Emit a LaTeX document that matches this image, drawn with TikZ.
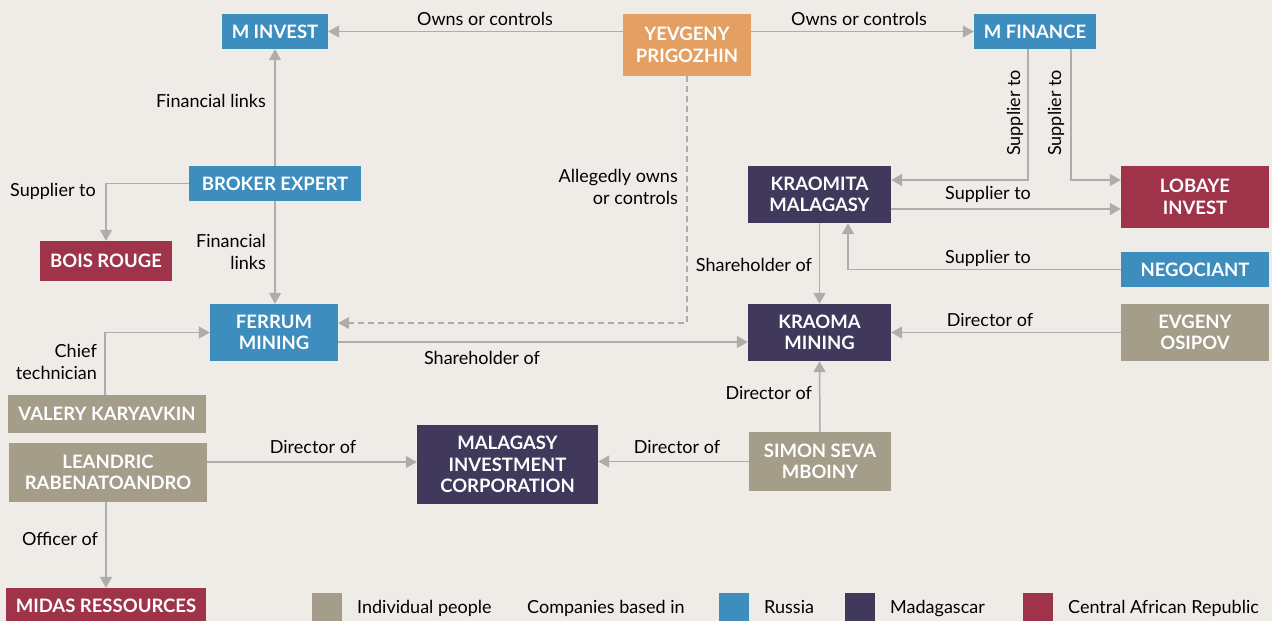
\documentclass[tikz,border=0pt]{standalone}
\usepackage{fontspec}
\setmainfont{Lato}
\usetikzlibrary{arrows.meta,calc}
\definecolor{bgc}{HTML}{EFECE7}
\definecolor{rus}{HTML}{3E8DBF}
\definecolor{mad}{HTML}{40395C}
\definecolor{car}{HTML}{9F334A}
\definecolor{ppl}{HTML}{A39D89}
\definecolor{prg}{HTML}{E3A062}
\definecolor{lnc}{HTML}{ADADAD}
\tikzset{
  box/.style={inner sep=0pt, align=center, text=white, font=\fontsize{18.5}{21.5}\selectfont\bfseries},
  lbl/.style={inner sep=0pt, align=center, text=black, font=\fontsize{18}{22}\selectfont},
  lblr/.style={lbl, align=right},
  arr/.style={draw=lnc, line width=1.5pt, -{Triangle[length=11pt,width=12pt]}},
  darr/.style={arr, dash pattern=on 6pt off 4pt, line width=1.2pt},
  sq/.style={inner sep=0pt, minimum width=30pt, minimum height=30pt}
}
\begin{document}
\begin{tikzpicture}[x=1pt,y=-1pt]
\fill[bgc] (0,0) rectangle (1272,621);
\useasboundingbox (0,0) rectangle (1272,621);
% nodes
\node[box, fill=rus, minimum width=106pt, minimum height=35pt] (minv) at (275,31.5) {M INVEST};
\node[box, fill=prg, minimum width=128pt, minimum height=62pt] (prig) at (687,45) {YEVGENY\\PRIGOZHIN};
\node[box, fill=rus, minimum width=122pt, minimum height=35pt] (mfin) at (1035,31.5) {M FINANCE};
\node[box, fill=rus, minimum width=172pt, minimum height=35pt] (broker) at (275,183.5) {BROKER EXPERT};
\node[box, fill=car, minimum width=132pt, minimum height=40pt] (bois) at (106,261) {BOIS ROUGE};
\node[box, fill=mad, minimum width=143pt, minimum height=57pt] (kraomita) at (819.5,194.5) {KRAOMITA\\MALAGASY};
\node[box, fill=car, minimum width=148pt, minimum height=62pt] (lobaye) at (1195,197) {LOBAYE\\INVEST};
\node[box, fill=rus, minimum width=148pt, minimum height=35pt] (negoc) at (1195,269.5) {NEGOCIANT};
\node[box, fill=rus, minimum width=128pt, minimum height=57pt] (ferrum) at (274,332.5) {FERRUM\\MINING};
\node[box, fill=mad, minimum width=143pt, minimum height=57pt] (kraoma) at (819.5,332.5) {KRAOMA\\MINING};
\node[box, fill=ppl, minimum width=148pt, minimum height=57pt] (osipov) at (1195,332.5) {EVGENY\\OSIPOV};
\node[box, fill=ppl, minimum width=198pt, minimum height=38pt] (valery) at (107,414) {VALERY KARYAVKIN};
\node[box, fill=ppl, minimum width=198pt, minimum height=59pt] (leandric) at (108,472.5) {LEANDRIC\\RABENATOANDRO};
\node[box, fill=mad, minimum width=181pt, minimum height=79pt] (mic) at (507.5,464.5) {MALAGASY\\INVESTMENT\\CORPORATION};
\node[box, fill=ppl, minimum width=142pt, minimum height=59pt] (simon) at (820,461.5) {SIMON SEVA\\MBOINY};
\node[box, fill=car, minimum width=200pt, minimum height=36pt] (midas) at (106,606) {MIDAS RESSOURCES};
% helper coordinates
\coordinate (feA) at ([yshift=9.5pt]ferrum.east);
\coordinate (feB) at ([yshift=-9.5pt]ferrum.east);
\coordinate (kmA) at ([yshift=14.5pt]kraomita.east);
\coordinate (kmB) at ([yshift=-14.5pt]kraomita.east);
\coordinate (kmS) at ([xshift=28.5pt]kraomita.south);
\coordinate (mfA) at ([xshift=-7pt]mfin.south);
\coordinate (mfB) at ([xshift=36pt]mfin.south);
\coordinate (lbA) at ([yshift=17pt]lobaye.west);
\coordinate (leA) at ([yshift=10.5pt]leandric.east);
\coordinate (vaA) at ([xshift=-2pt]valery.north);
% connectors
\draw[arr] (minv.east -| prig.west) -- (minv.east);
\draw[arr] (mfin.west -| prig.east) -- (mfin.west);
\draw[arr] (broker.north) -- (minv.south);
\draw[arr] (broker.west) -| (bois.north);
\draw[arr] (broker.south) -- (broker.south |- ferrum.north);
\draw[darr] (prig.south) |- (feA);
\draw[arr] (feB) -- (kraoma.west |- feB);
\draw[arr] (kraomita.south) -- (kraoma.north);
\draw[arr] (mfA) |- (kmA);
\draw[arr] (mfB) |- (lbA);
\draw[arr] (kmB) -- (lobaye.west |- kmB);
\draw[arr] (negoc.west) -| (kmS);
\draw[arr] (osipov.west) -- (kraoma.east);
\draw[arr] (simon.north) -- (kraoma.south);
\draw[arr] (simon.west) -- (mic.east |- simon.west);
\draw[arr] (leA) -- (mic.west |- leA);
\draw[arr] (vaA) |- (ferrum.west);
\draw[arr] (leandric.south -| midas.north) -- (midas.north);
% labels
\node[lbl] (l1) at (485,19) {Owns or controls};
\node[lbl] (l2) at (859,19) {Owns or controls};
\node[lblr, anchor=east] (l3) at (266,101) {Financial links};
\node[lblr, anchor=east] (l4) at (96,191) {Supplier to};
\node[lblr, anchor=east] (l5) at (266,252) {Financial\\links};
\node[lblr, anchor=east] (l6) at (678,187) {Allegedly owns\\or controls};
\node[lbl] (l7) at (482,358) {Shareholder of};
\node[lblr, anchor=east] (l8) at (812,265) {Shareholder of};
\node[lbl, rotate=90] (l9) at (1015,113) {Supplier to};
\node[lbl, rotate=90] (l10) at (1056,113) {Supplier to};
\node[lbl] (l11) at (988,194) {Supplier to};
\node[lbl] (l12) at (988,258) {Supplier to};
\node[lbl] (l13) at (990,320) {Director of};
\node[lblr, anchor=east] (l14) at (812,393) {Director of};
\node[lbl] (l15) at (677,447) {Director of};
\node[lbl] (l16) at (313,447) {Director of};
\node[lblr, anchor=east] (l17) at (97,362) {Chief\\technician};
\node[lblr, anchor=east] (l18) at (98,539) {Officer of};
% legend
\node[sq, fill=ppl] (s1) at (327,608) {};
\node[lbl, anchor=base west] (t1) at (357,613) {Individual people};
\node[lbl, anchor=base west] (t2) at (527,613) {Companies based in};
\node[sq, fill=rus] (s2) at (734,608) {};
\node[lbl, anchor=base west] (t3) at (764,613) {Russia};
\node[sq, fill=mad] (s3) at (860,608) {};
\node[lbl, anchor=base west] (t4) at (890,613) {Madagascar};
\node[sq, fill=car] (s4) at (1038,608) {};
\node[lbl, anchor=base west] (t5) at (1068,613) {Central African Republic};
\end{tikzpicture}
\end{document}
